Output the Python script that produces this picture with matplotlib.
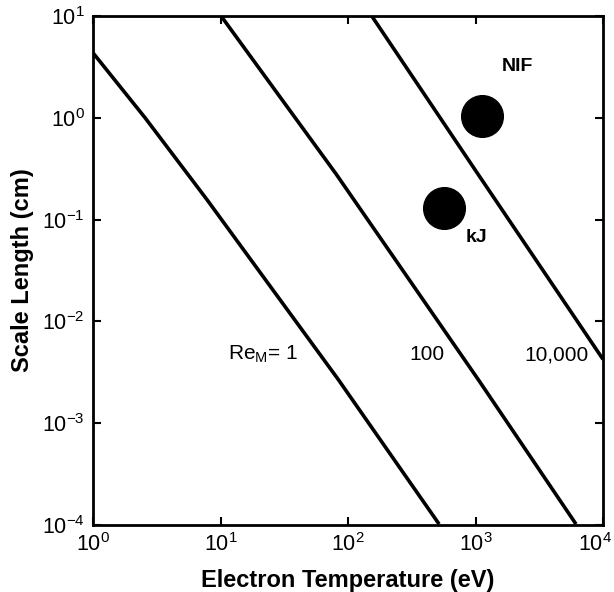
import matplotlib
matplotlib.use("Agg")
import matplotlib.pyplot as plt
from matplotlib.transforms import ScaledTranslation

plt.rcParams['font.family'] = ['Liberation Sans', 'DejaVu Sans']
plt.rcParams['mathtext.default'] = 'regular'

# curves of constant magnetic Reynolds number
re1_temp = [1.0, 2.56, 7.83, 83.6, 518]
re1_len = [4.34, 1.0, 0.157, 0.0027, 1.02e-4]

re100_temp = [10.1, 80.7, 1047, 6138]
re100_len = [10.0, 0.28, 0.0027, 1.02e-4]

re10k_temp = [153.5, 991, 10000]
re10k_len = [10.0, 0.309, 0.00424]

# facility points
facilities = ['NIF', 'kJ']
fac_temp = [1120, 566]
fac_len = [1.03, 0.130]

fig = plt.figure(figsize=(6.14, 5.92), dpi=100)
ax = fig.add_axes([0.1515, 0.1132, 0.8306, 0.8598])

for t, l in [(re1_temp, re1_len), (re100_temp, re100_len), (re10k_temp, re10k_len)]:
    ax.plot(t, l, color='black', lw=2.6, solid_capstyle='butt')

ax.plot(fac_temp, fac_len, 'o', color='black', markersize=30)

ax.set_xscale('log')
ax.set_yscale('log')
ax.set_xlim(1, 1e4)
ax.set_ylim(1e-4, 10)
ax.minorticks_off()
ax.set_xticks([1, 10, 100, 1000, 10000])
ax.set_yticks([1e-4, 1e-3, 1e-2, 1e-1, 1, 10])
ax.tick_params(direction='in', length=6, width=1.5, top=True, right=True,
               labelsize=15.5, pad=6)
for s in ax.spines.values():
    s.set_linewidth(2)

# last x label sits against the right edge
fig.canvas.draw()
last = ax.get_xticklabels()[-1]
last.set_transform(last.get_transform() + ScaledTranslation(-8 / 100, 0, fig.dpi_scale_trans))

ax.set_xlabel('Electron Temperature (eV)', fontsize=17, fontweight='bold', labelpad=9)
ax.set_ylabel('Scale Length (cm)', fontsize=17, fontweight='bold', labelpad=6)

ax.text(2150, 3.2, facilities[0], fontsize=14, fontweight='bold', ha='center', va='center')
ax.text(1022, 0.066, facilities[1], fontsize=14, fontweight='bold', ha='center', va='center')
ax.text(21.5, 0.0047, 'Re$_M$= 1', fontsize=15, ha='center', va='center')
ax.text(414, 0.0047, '100', fontsize=15, ha='center', va='center')
ax.text(4330, 0.0047, '10,000', fontsize=15, ha='center', va='center')

fig.savefig('out.png', dpi=100)
